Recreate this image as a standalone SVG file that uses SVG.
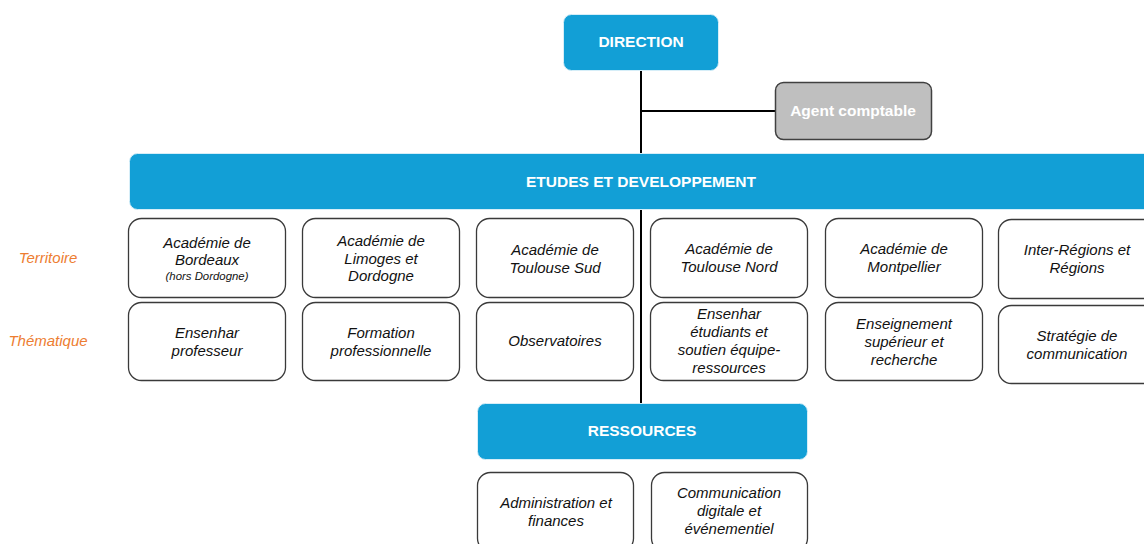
<svg xmlns="http://www.w3.org/2000/svg" width="1144" height="544" viewBox="0 0 1144 544">
  <style>
    .hdr { fill: #129fd6; stroke: #d6eef8; stroke-width: 1; }
    .hdr-t { font-family: "Liberation Sans", Arial, sans-serif; font-weight: bold; font-size: 15.5px; fill: #ffffff; text-anchor: middle; }
    .unit { fill: #ffffff; stroke: #3a3a3a; stroke-width: 1.3; }
    .unit-t { font-family: "Liberation Sans", Arial, sans-serif; font-style: italic; font-size: 15px; fill: #111111; text-anchor: middle; }
    .small-t { font-family: "Liberation Sans", Arial, sans-serif; font-style: italic; font-size: 11.4px; fill: #111111; text-anchor: middle; }
    .axis-t { font-family: "Liberation Sans", Arial, sans-serif; font-style: italic; font-size: 15px; fill: #ed7d31; text-anchor: middle; }
    .link { stroke: #000000; stroke-width: 2; fill: none; }
  </style>
  <rect width="1144" height="544" fill="#ffffff"/>

  <!-- connectors -->
  <g id="connectors">
    <line class="link" x1="641" y1="70" x2="641" y2="154"/>
    <line class="link" x1="641" y1="111" x2="776" y2="111"/>
    <line class="link" x1="641" y1="209" x2="641" y2="404"/>
  </g>

  <!-- axis labels -->
  <g id="axis-labels">
    <text class="axis-t" x="48" y="263">Territoire</text>
    <text class="axis-t" x="48" y="346">Thématique</text>
  </g>

  <g id="direction">
    <rect class="hdr" x="563.5" y="14.5" width="155" height="56" rx="8"/>
    <text class="hdr-t" x="641" y="47">DIRECTION</text>
  </g>

  <g id="agent-comptable">
    <rect x="775.5" y="82.5" width="156" height="57" rx="8" fill="#bfbfbf" stroke="#404040" stroke-width="1.5"/>
    <text class="hdr-t" x="853" y="116" fill="#f4f4f4">Agent comptable</text>
  </g>

  <g id="etudes">
    <rect class="hdr" x="129.5" y="153.5" width="1030" height="56" rx="8"/>
    <text class="hdr-t" x="641" y="187">ETUDES ET DEVELOPPEMENT</text>
  </g>

  <!-- territory row -->
  <g id="bordeaux">
    <rect class="unit" x="128.5" y="218.5" width="157" height="79" rx="13"/>
    <text class="unit-t" x="207" y="248">Académie de</text>
    <text class="unit-t" x="207" y="265">Bordeaux</text>
    <text class="small-t" x="207" y="280">(hors Dordogne)</text>
  </g>
  <g id="limoges">
    <rect class="unit" x="302.5" y="218.5" width="157" height="79" rx="13"/>
    <text class="unit-t" x="381" y="246">Académie de</text>
    <text class="unit-t" x="381" y="263.5">Limoges et</text>
    <text class="unit-t" x="381" y="281">Dordogne</text>
  </g>
  <g id="toulouse-sud">
    <rect class="unit" x="476.5" y="218.5" width="157" height="79" rx="13"/>
    <text class="unit-t" x="555" y="255">Académie de</text>
    <text class="unit-t" x="555" y="272.5">Toulouse Sud</text>
  </g>
  <g id="toulouse-nord">
    <rect class="unit" x="650.5" y="218.5" width="157" height="79" rx="13"/>
    <text class="unit-t" x="729" y="254">Académie de</text>
    <text class="unit-t" x="729" y="272">Toulouse Nord</text>
  </g>
  <g id="montpellier">
    <rect class="unit" x="825.5" y="218.5" width="157" height="79" rx="13"/>
    <text class="unit-t" x="904" y="254">Académie de</text>
    <text class="unit-t" x="904" y="272">Montpellier</text>
  </g>
  <g id="regions">
    <rect class="unit" x="998.5" y="219.5" width="160" height="79" rx="13"/>
    <text class="unit-t" x="1077" y="255">Inter-Régions et</text>
    <text class="unit-t" x="1077" y="273">Régions</text>
  </g>

  <!-- thematic row -->
  <g id="ensenhar-professeur">
    <rect class="unit" x="128.5" y="302.5" width="157" height="78" rx="13"/>
    <text class="unit-t" x="207" y="338">Ensenhar</text>
    <text class="unit-t" x="207" y="355.5">professeur</text>
  </g>
  <g id="formation-pro">
    <rect class="unit" x="302.5" y="302.5" width="157" height="78" rx="13"/>
    <text class="unit-t" x="381" y="338">Formation</text>
    <text class="unit-t" x="381" y="355.5">professionnelle</text>
  </g>
  <g id="observatoires">
    <rect class="unit" x="476.5" y="302.5" width="157" height="78" rx="13"/>
    <text class="unit-t" x="555" y="346">Observatoires</text>
  </g>
  <g id="ensenhar-etudiants">
    <rect class="unit" x="650.5" y="302.5" width="157" height="78" rx="13"/>
    <text class="unit-t" x="729" y="319">Ensenhar</text>
    <text class="unit-t" x="729" y="337">étudiants et</text>
    <text class="unit-t" x="729" y="355">soutien équipe-</text>
    <text class="unit-t" x="729" y="373">ressources</text>
  </g>
  <g id="enseignement-sup">
    <rect class="unit" x="825.5" y="302.5" width="157" height="78" rx="13"/>
    <text class="unit-t" x="904" y="329">Enseignement</text>
    <text class="unit-t" x="904" y="347">supérieur et</text>
    <text class="unit-t" x="904" y="364.5">recherche</text>
  </g>
  <g id="strategie-com">
    <rect class="unit" x="998.5" y="305.5" width="160" height="78" rx="13"/>
    <text class="unit-t" x="1077" y="341">Stratégie de</text>
    <text class="unit-t" x="1077" y="358.5">communication</text>
  </g>

  <g id="ressources">
    <rect class="hdr" x="477.5" y="403.5" width="330" height="56" rx="8"/>
    <text class="hdr-t" x="642" y="436">RESSOURCES</text>
  </g>

  <g id="administration">
    <rect class="unit" x="477.5" y="472.5" width="156" height="79" rx="13"/>
    <text class="unit-t" x="556" y="508">Administration et</text>
    <text class="unit-t" x="556" y="525.5">finances</text>
  </g>
  <g id="communication-digitale">
    <rect class="unit" x="651.5" y="472.5" width="156" height="79" rx="13"/>
    <text class="unit-t" x="729" y="498">Communication</text>
    <text class="unit-t" x="729" y="516">digitale et</text>
    <text class="unit-t" x="729" y="533.5">événementiel</text>
  </g>
</svg>
